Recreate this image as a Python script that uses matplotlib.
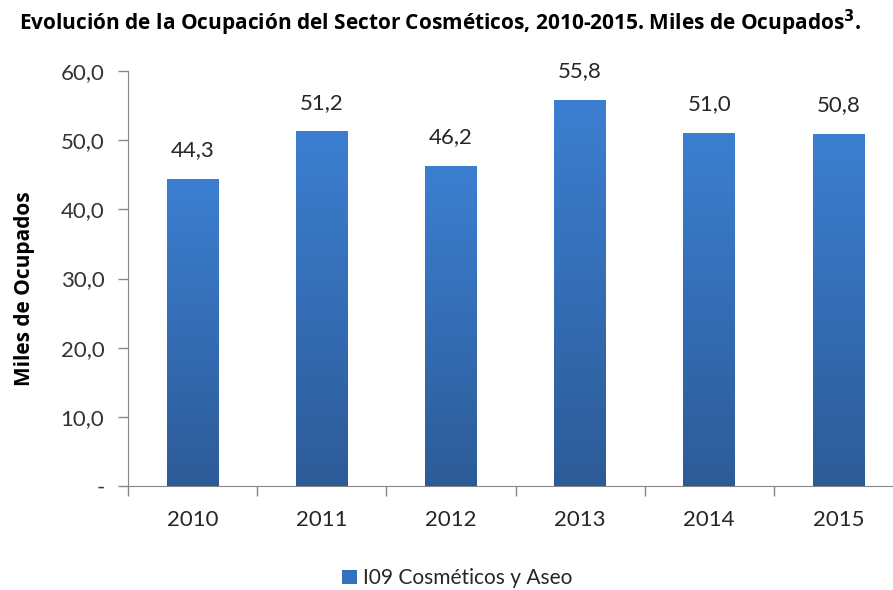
import matplotlib
matplotlib.use("Agg")
import matplotlib.pyplot as plt
import numpy as np

years = ["2010", "2011", "2012", "2013", "2014", "2015"]
values = [44.3, 51.2, 46.2, 55.8, 51.0, 50.8]
series_name = "I09 Cosméticos y Aseo"
yticks = [0, 10, 20, 30, 40, 50, 60]

plt.rcParams['font.family'] = ['Lato', 'DejaVu Sans']

fig = plt.figure(figsize=(8.93, 5.9), dpi=100)
ax = fig.add_axes((128 / 893, 104 / 590, 775 / 893, 415 / 590))

x = np.arange(len(years))
width = 0.4
bars = ax.bar(x, values, width=width, color="#3470bd", label=series_name, zorder=2)

# vertical gradient inside each bar, lighter at top
grad = np.linspace(0, 1, 256).reshape(-1, 1)
cmap = matplotlib.colors.LinearSegmentedColormap.from_list("g", ["#2d5b98", "#3c7fd1"])
for b in bars:
    x0, y0 = b.get_x(), b.get_y()
    ax.imshow(grad, cmap=cmap, origin="lower", aspect="auto",
              extent=(x0, x0 + b.get_width(), y0, y0 + b.get_height()), zorder=3)

for xi, v in zip(x, values):
    ax.annotate(f"{v:.1f}".replace(".", ","), (xi, v), xytext=(0, 21),
                textcoords="offset points", ha="center", va="center",
                fontsize=16, color="#262626")

ax.set_xlim(-0.5, len(years) - 0.5)
ax.set_ylim(0, 60)
ax.set_yticks(yticks)
ax.set_yticklabels(["-" if t == 0 else f"{t:.1f}".replace(".", ",") for t in yticks])
ax.set_xticks(x)
ax.set_xticklabels(years)
ax.set_xticks(np.arange(len(years) + 1) - 0.5, minor=True)
ax.tick_params(axis="x", which="major", length=0, pad=17, labelsize=16, labelcolor="#262626")
ax.tick_params(axis="x", which="minor", length=7, color="#868686", width=1)
ax.tick_params(axis="y", length=7, color="#868686", width=1, pad=10, labelsize=16, labelcolor="#333333")

for s in ["top", "right"]:
    ax.spines[s].set_visible(False)
for s in ["left", "bottom"]:
    ax.spines[s].set_color("#868686")

fig.text(0.493, 0.962, "Evolución de la Ocupación del Sector Cosméticos, 2010-2015. Miles de Ocupados$^{\\mathbf{3}}$.",
         ha="center", va="center", fontsize=15, fontweight="bold", family=["Open Sans", "DejaVu Sans"])
fig.text(0.027, 0.51, "Miles de Ocupados", rotation=90, ha="center", va="center",
         fontsize=15, fontweight="bold", family=["Open Sans", "DejaVu Sans"])

fig.legend(handles=[bars], labels=[series_name], loc="center", bbox_to_anchor=(0.512, 0.02),
           frameon=False, fontsize=15, handlelength=0.7, handleheight=0.7, handletextpad=0.3,
           labelcolor="#262626")

fig.savefig("out.png", dpi=100)
